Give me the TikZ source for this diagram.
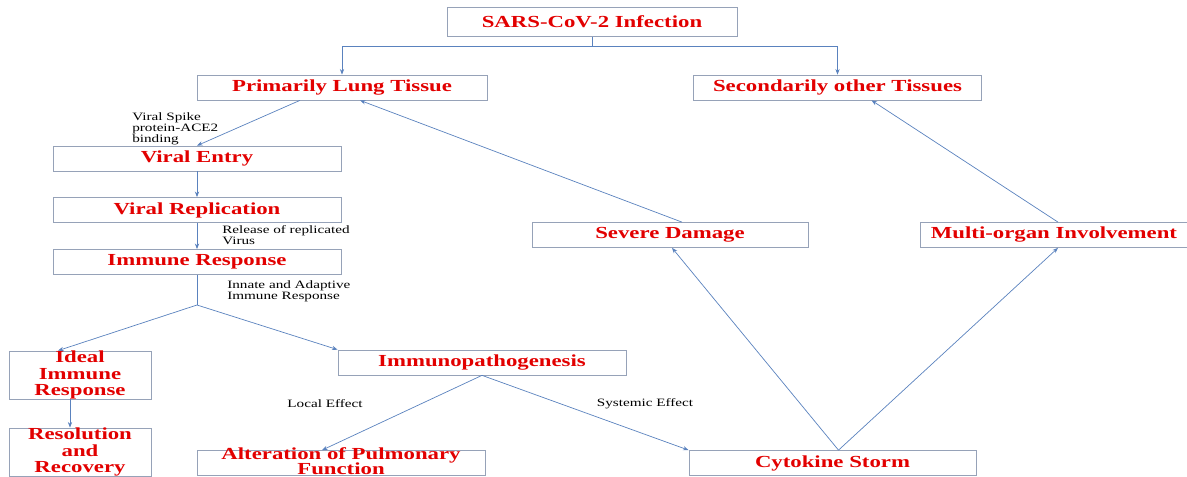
\documentclass[tikz,border=0pt]{standalone}
\usepackage{fontspec}
\setmainfont{Liberation Serif}[FakeStretch=1.35]
\usepackage{tikz}
\usetikzlibrary{arrows.meta}
\definecolor{boxred}{RGB}{226,0,0}
\definecolor{linkblue}{RGB}{90,130,190}
\definecolor{framegray}{RGB}{150,162,184}

\tikzset{
  box/.style={draw=framegray, line width=0.5pt, inner sep=0pt, minimum height=0.625cm,
    text=boxred, font=\fontsize{12}{11.5}\selectfont\bfseries, align=center},
  note/.style={inner sep=0pt, align=left, font=\fontsize{8}{7.8}\selectfont},
  link/.style={draw=linkblue, line width=0.5pt, -{Stealth[length=4pt,width=3pt]}},
}

\begin{document}
\begin{tikzpicture}[x=0.025cm,y=-0.025cm]
    \useasboundingbox (0,0) rectangle (1187,477);
    % boxes
    \node[box, minimum width=7.25cm, minimum height=0.725cm] (sars) at (592,22) {SARS-CoV-2 Infection};
    \node[box, minimum width=7.25cm] (lung) at (342,87.5) {Primarily Lung Tissue};
    \node[box, minimum width=7.2cm] (sec) at (837.5,87.5) {Secondarily other Tissues};
    \node[box, minimum width=7.2cm] (ve) at (197,158.5) {Viral Entry};
    \node[box, minimum width=7.2cm] (vr) at (197,210) {Viral Replication};
    \node[box, minimum width=7.2cm] (ir) at (197,262) {Immune Response};
    \node[box, minimum width=3.55cm, minimum height=1.2cm] (ideal) at (80,375) {Ideal\\Immune\\Response};
    \node[box, minimum width=3.55cm, minimum height=1.2cm] (res) at (80,452) {Resolution\\and\\Recovery};
    \node[box, minimum width=7.2cm] (ip) at (482,362.5) {Immunopathogenesis};
    \node[box, minimum width=7.2cm] (alt) at (341,463)
      {\smash{\raisebox{2.5pt}{\begin{tabular}[t]{@{}c@{}}Alteration of Pulmonary\\[-1.2pt]Function\end{tabular}}}};
    \node[box, minimum width=7.175cm] (cs) at (832.5,463) {Cytokine Storm};
    \node[box, minimum width=6.9cm] (sd) at (670,235) {Severe Damage};
    \node[box, minimum width=6.7cm] (mo) at (1054,235) {Multi-organ Involvement};
    \coordinate (top) at (592,46);
    \coordinate (br) at (197,305);

    % labels
    \node[note, anchor=north west] (spike) at (132,112) {Viral Spike\\protein-ACE2\\binding};
    \node[note, anchor=north west] (rel) at (222,225) {Release of replicated\\Virus};
    \node[note, anchor=north west] (innate) at (227,280) {Innate and Adaptive\\Immune Response};
    \node[note] (local) at (325,404) {Local Effect};
    \node[note] (sys) at (645,404) {Systemic Effect};

    % connectors
    \draw[link, -] (sars) -- (top);
    \draw[link] (top) -| (lung.north);
    \draw[link] (top) -| (sec.north);
    \draw[link] ([xshift=-1.05cm]lung.south) -- (ve.north);
    \draw[link] ([xshift=0.3cm]sd.north) -- ([xshift=0.45cm]lung.south);
    \draw[link] ([xshift=0.1cm]mo.north) -- ([xshift=0.85cm]sec.south);
    \draw[link] (ve) -- (vr);
    \draw[link] (vr) -- (ir);
    \draw[link, -] (ir) -- (br);
    \draw[link] (br) -- ([xshift=-0.55cm]ideal.north);
    \draw[link] (br) -- (ip.north west);
    \draw[link] ([xshift=-0.25cm]ideal.south) -- ([xshift=-0.25cm]res.north);
    \draw[link] (ip.south) -- ([xshift=-0.475cm]alt.north);
    \draw[link] (ip.south) -- (cs.north west);
    \draw[link] ([xshift=0.15cm]cs.north) -- ([xshift=0.05cm]sd.south);
    \draw[link] ([xshift=0.15cm]cs.north) -- ([xshift=0.1cm]mo.south);
\end{tikzpicture}
\end{document}
